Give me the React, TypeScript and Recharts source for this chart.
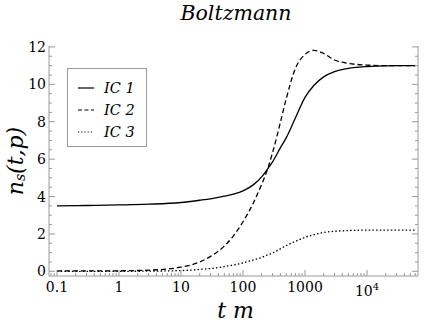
import React from "react";
import { LineChart, Line, XAxis, YAxis, Legend } from "recharts";

// time samples (t m) and the three initial conditions
const times = [0.1, 0.3, 1, 3, 10, 20, 30, 50, 70, 100, 150, 200, 250, 300, 400, 500, 700, 1000, 1400, 2000, 3000, 5000, 10000, 20000, 60000];
const ic1 = [3.5, 3.52, 3.55, 3.59, 3.68, 3.8, 3.88, 4.02, 4.13, 4.3, 4.65, 5.05, 5.48, 5.85, 6.6, 7.15, 8.2, 9.3, 9.95, 10.4, 10.68, 10.85, 10.95, 10.99, 11.0];
const ic2 = [0.02, 0.02, 0.03, 0.06, 0.22, 0.5, 0.8, 1.35, 1.9, 2.65, 3.72, 4.65, 5.48, 6.35, 7.95, 9.25, 10.85, 11.6, 11.82, 11.65, 11.3, 11.12, 11.03, 11.0, 11.0];
const ic3 = [0.0, 0.0, 0.0, 0.01, 0.04, 0.1, 0.15, 0.25, 0.34, 0.45, 0.62, 0.74, 0.88, 0.98, 1.2, 1.38, 1.6, 1.82, 1.96, 2.08, 2.14, 2.18, 2.2, 2.2, 2.2];

const seriesNames = ["IC 1", "IC 2", "IC 3"];
const yMajorTicks = [0, 2, 4, 6, 8, 10, 12];

const xDomain = [0.0743, 66500];
const yDomain = [-0.25, 12.05];

const frame = "#9a9a9a";
const font = "DejaVu Serif";

if (typeof document !== "undefined") document.body.style.margin = "0";

const data = times.map((t, i) => ({ t, ic1: ic1[i], ic2: ic2[i], ic3: ic3[i] }));

// log minor ticks 2..9 per decade, y minor every 0.5
const xTicks: number[] = [];
for (let e = -2; e <= 4; e++) {
  for (let m = 1; m <= 9; m++) {
    const v = Number((m * Math.pow(10, e)).toPrecision(6));
    if (v >= xDomain[0] && v <= xDomain[1]) xTicks.push(v);
  }
}
const yTicks: number[] = [];
for (let v = 0; v <= 12; v += 0.5) yTicks.push(v);

const isMajorX = (v: number) => Math.abs(Math.log10(v) - Math.round(Math.log10(v))) < 1e-6;
const isMajorY = (v: number) => yMajorTicks.includes(v);

function xLabel(v: number) {
  if (v === 10000) {
    return (
      <>
        10<tspan dy={-6} fontSize={10}>4</tspan>
      </>
    );
  }
  return String(v);
}

function BottomTick(props: any) {
  const { x, y, payload } = props;
  const major = isMajorX(payload.value);
  return (
    <g>
      <line x1={x} x2={x} y1={y} y2={y - (major ? 6 : 3)} stroke={frame} />
      {major && (
        <text x={x} y={y + (payload.value === 10000 ? 20 : 16)} textAnchor="middle" fontSize={14} style={{ fontFamily: font }} fill="#000">
          {xLabel(payload.value)}
        </text>
      )}
    </g>
  );
}

function TopTick(props: any) {
  const { x, y, payload } = props;
  const major = isMajorX(payload.value);
  return <line x1={x} x2={x} y1={y} y2={y + (major ? 6 : 3)} stroke={frame} />;
}

function LeftTick(props: any) {
  const { x, y, payload } = props;
  const major = isMajorY(payload.value);
  return (
    <g>
      <line x1={x} x2={x + (major ? 6 : 3)} y1={y} y2={y} stroke={frame} />
      {major && (
        <text x={x - 3} y={y + 5} textAnchor="end" fontSize={14} style={{ fontFamily: font }} fill="#000">
          {payload.value}
        </text>
      )}
    </g>
  );
}

function RightTick(props: any) {
  const { x, y, payload } = props;
  const major = isMajorY(payload.value);
  return <line x1={x} x2={x - (major ? 6 : 3)} y1={y} y2={y} stroke={frame} />;
}

function YTitle(props: any) {
  const { viewBox } = props;
  const cy = viewBox.y + viewBox.height / 2;
  const cx = 15;
  return (
    <text x={cx} y={cy} transform={`rotate(-90 ${cx} ${cy})`} textAnchor="middle" dominantBaseline="central" fontSize={22} fontStyle="italic" style={{ fontFamily: font }} fill="#000">
      n<tspan fontSize={14} dy={5}>s</tspan>
      <tspan dy={-5}>(t,p)</tspan>
    </text>
  );
}

function XTitle(props: any) {
  const { viewBox } = props;
  return (
    <text x={viewBox.x + viewBox.width / 2 + 2} y={318} textAnchor="middle" fontSize={22} fontStyle="italic" style={{ fontFamily: font }} fill="#000">
      t m
    </text>
  );
}

function LegendBox() {
  const dashes = ["", "4 2.5", "1.2 2"];
  return (
    <div style={{ border: `1px solid ${frame}`, width: 80, height: 79, boxSizing: "border-box", padding: "8px 0 0 9px", background: "#fff" }}>
      {seriesNames.map((n, i) => (
        <div key={n} style={{ display: "flex", alignItems: "center", height: 22 }}>
          <svg width={18} height={10}>
            <line x1={1} x2={17} y1={5} y2={5} stroke="#000" strokeWidth={1.2} strokeDasharray={dashes[i]} />
          </svg>
          <span style={{ fontFamily: font, fontStyle: "italic", fontSize: 14.5, marginLeft: 9, color: "#000" }}>{n}</span>
        </div>
      ))}
    </div>
  );
}

export default function App() {
  return (
    <div style={{ position: "relative", width: 424, height: 327 }}>
      <div style={{ position: "absolute", left: 0, width: 472, top: 1, textAlign: "center", fontFamily: font, fontStyle: "italic", fontSize: 20.5, lineHeight: "24px", color: "#000" }}>
        Boltzmann
      </div>
      <LineChart width={424} height={327} data={data} margin={{ top: 46, right: 0, bottom: 0, left: 0 }}>
        <XAxis
          dataKey="t"
          type="number"
          scale="log"
          domain={xDomain}
          allowDataOverflow
          ticks={xTicks}
          interval={0}
          tick={<BottomTick />}
          tickSize={0}
          tickMargin={0}
          tickLine={false}
          height={51}
          axisLine={{ stroke: frame }}
          label={<XTitle />}
        />
        <XAxis
          xAxisId="top"
          orientation="top"
          type="number"
          scale="log"
          domain={xDomain}
          allowDataOverflow
          ticks={xTicks}
          interval={0}
          tick={<TopTick />}
          tickSize={0}
          tickMargin={0}
          tickLine={false}
          height={0}
          axisLine={{ stroke: frame }}
        />
        <YAxis
          type="number"
          domain={yDomain}
          allowDataOverflow
          ticks={yTicks}
          interval={0}
          tick={<LeftTick />}
          tickSize={0}
          tickMargin={0}
          tickLine={false}
          width={49}
          axisLine={{ stroke: frame }}
          label={<YTitle />}
        />
        <YAxis
          yAxisId="right"
          orientation="right"
          type="number"
          domain={yDomain}
          allowDataOverflow
          ticks={yTicks}
          interval={0}
          tick={<RightTick />}
          tickSize={0}
          tickMargin={0}
          tickLine={false}
          width={6}
          axisLine={{ stroke: frame }}
        />
        <Legend
          layout="horizontal"
          verticalAlign="middle"
          align="center"
          content={() => <LegendBox />}
          wrapperStyle={{ position: "absolute", left: 67, top: 68, width: 80 }}
        />
        <Line type="monotone" dataKey="ic1" name={seriesNames[0]} stroke="#000" strokeWidth={1.3} dot={false} isAnimationActive={false} />
        <Line type="monotone" dataKey="ic2" name={seriesNames[1]} stroke="#000" strokeWidth={1.3} strokeDasharray="5 3" dot={false} isAnimationActive={false} />
        <Line type="monotone" dataKey="ic3" name={seriesNames[2]} stroke="#000" strokeWidth={1.3} strokeDasharray="1.5 2.2" dot={false} isAnimationActive={false} />
      </LineChart>
    </div>
  );
}
